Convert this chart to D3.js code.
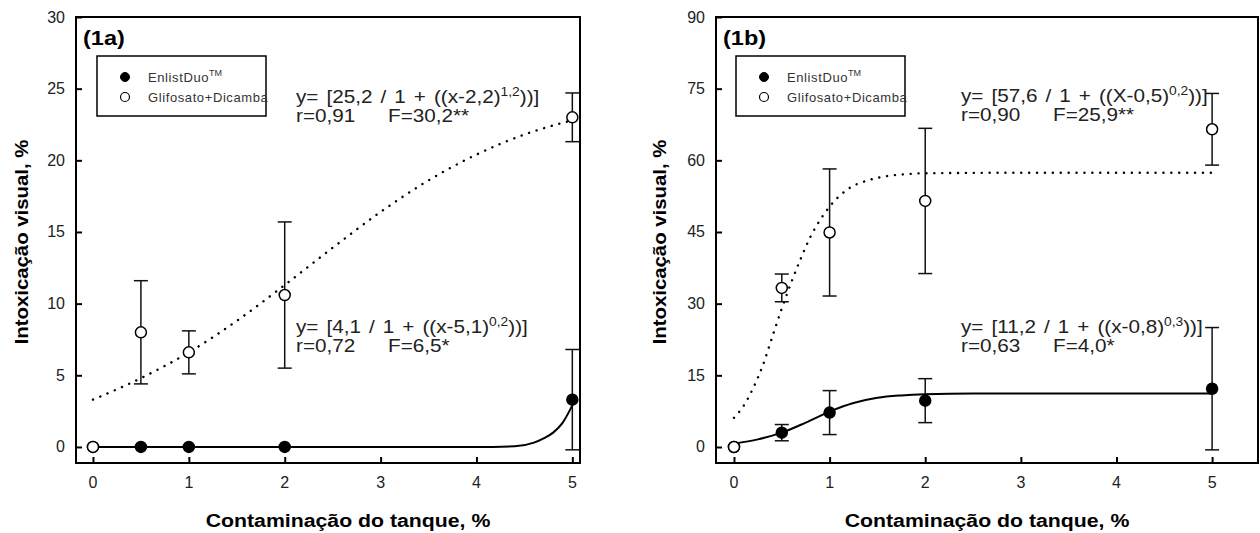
<!DOCTYPE html>
<html>
<head>
<meta charset="utf-8">
<script src="https://cdn.jsdelivr.net/npm/d3@7"></script>
<style>
  body { margin: 0; background: #fff; }
  svg { font-family: "Liberation Sans", Arial, sans-serif; }
</style>
</head>
<body>
<svg id="chart" width="1260" height="533"></svg>
<script>
// Tank contamination doses (%)
const doses = [0, 0.5, 1, 2, 5];
const xTicks = [0, 1, 2, 3, 4, 5];

// Panel 1a
const yTicksA = [0, 5, 10, 15, 20, 25, 30];
const enlistA = [0, 0, 0, 0, 3.3];
const enlistAErr = [0, 0, 0, 0, 3.5];
const glifA = [0, 8.0, 6.6, 10.6, 23.0];
const glifAErr = [0, 3.6, 1.5, 5.1, 1.7];
const fitEnlistAx = [0, 1, 2, 3, 4, 4.4, 4.6, 4.7, 4.8, 4.9, 5];
const fitEnlistAy = [0, 0, 0, 0, 0, 0.05, 0.3, 0.6, 1.0, 1.7, 2.9];
const fitGlifAx = [0, 0.5, 1, 1.5, 2, 2.5, 3, 3.5, 4, 4.5, 5];
const fitGlifAy = [3.3, 4.8, 6.6, 8.8, 11.3, 13.9, 16.4, 18.6, 20.4, 21.8, 22.8];

// Panel 1b
const yTicksB = [0, 15, 30, 45, 60, 75, 90];
const enlistB = [0, 3.0, 7.2, 9.7, 12.2];
const enlistBErr = [0, 1.7, 4.6, 4.6, 12.8];
const glifB = [0, 33.3, 44.9, 51.5, 66.5];
const glifBErr = [0, 2.9, 13.3, 15.2, 7.5];
const fitEnlistBx = [0, 0.25, 0.5, 0.75, 1, 1.25, 1.5, 1.75, 2, 2.5, 5];
const fitEnlistBy = [0.7, 1.6, 3.0, 5.1, 7.4, 9.2, 10.3, 10.8, 11.05, 11.2, 11.2];
const fitGlifBx = [0, 0.1, 0.2, 0.3, 0.4, 0.5, 0.6, 0.7, 0.8, 0.9, 1.0, 1.2, 1.4, 1.6, 1.8, 2.0, 3, 4, 5];
const fitGlifBy = [6.1, 8.6, 12.3, 17.0, 23.0, 29.0, 34.5, 39.5, 44.0, 47.5, 50.3, 54.1, 55.8, 56.7, 57.1, 57.3, 57.4, 57.4, 57.4];

const svg = d3.select('#chart');

// text that is a bit wider than the font draws it (the source image is stretched sideways)
function wideText(g, x, y, sx, size) {
    return g.append('text')
        .attr('transform', `translate(${x},${y}) scale(${sx},1)`)
        .attr('font-size', size);
}

function drawPanel(p) {
    const x = d3.scaleLinear().domain(p.xDomain).range([p.left, p.right]);
    const y = d3.scaleLinear().domain(p.yDomain).range([p.bottom, p.top]);
    const g = svg.append('g');

    // ticks (inside) and labels
    g.append('g')
        .attr('transform', `translate(${p.left},0)`)
        .call(d3.axisRight(y).tickValues(p.yTicks).tickSize(6).tickFormat(''))
        .call(a => a.select('.domain').remove())
        .call(a => a.selectAll('line').attr('stroke', '#000').attr('stroke-width', 2));
    g.append('g')
        .attr('transform', `translate(0,${p.bottom})`)
        .call(d3.axisTop(x).tickValues(xTicks).tickSize(6).tickFormat(''))
        .call(a => a.select('.domain').remove())
        .call(a => a.selectAll('line').attr('stroke', '#000').attr('stroke-width', 2));

    g.selectAll('.ylab').data(p.yTicks).enter().append('text')
        .attr('x', p.left - 11).attr('y', d => y(d) + 5.5)
        .attr('text-anchor', 'end').attr('font-size', 16).attr('fill', '#222')
        .text(d => d);
    g.selectAll('.xlab').data(xTicks).enter().append('text')
        .attr('x', d => x(d)).attr('y', 488)
        .attr('text-anchor', 'middle').attr('font-size', 16).attr('fill', '#222')
        .text(d => d);

    // frame
    g.append('rect')
        .attr('x', p.left).attr('y', p.top)
        .attr('width', p.right - p.left).attr('height', p.bottom - p.top)
        .attr('fill', 'none').attr('stroke', '#000').attr('stroke-width', 2);

    // axis titles
    wideText(g, p.xTitleX, 527, 1.15, 18.5)
        .attr('text-anchor', 'middle').attr('font-weight', 'bold')
        .text('Contaminação do tanque, %');
    g.append('text')
        .attr('transform', `translate(${p.yTitleX},242) rotate(-90) scale(1.1,1)`)
        .attr('text-anchor', 'middle').attr('font-size', 18.5).attr('font-weight', 'bold')
        .text('Intoxicação visual, %');

    // panel label
    wideText(g, p.left + 7, 45, 1.12, 21)
        .attr('font-weight', 'bold')
        .text(p.label);

    // fitted curves
    const line = d3.line().x(d => x(d[0])).y(d => y(d[1])).curve(d3.curveMonotoneX);
    g.append('path')
        .datum(d3.zip(p.fitGlifX, p.fitGlifY))
        .attr('d', line).attr('fill', 'none').attr('stroke', '#000')
        .attr('stroke-width', 2.4).attr('stroke-linecap', 'round')
        .attr('stroke-dasharray', '0.1 7.8');
    g.append('path')
        .datum(d3.zip(p.fitEnlistX, p.fitEnlistY))
        .attr('d', line).attr('fill', 'none').attr('stroke', '#000')
        .attr('stroke-width', 2);

    // error bars + points
    function series(vals, errs, fill) {
        const data = d3.zip(doses, vals, errs);
        const eb = g.append('g');
        data.filter(d => d[2] > 0).forEach(d => {
            const top = y(d[1] + d[2]), bot = y(d[1] - d[2]), cx = x(d[0]);
            eb.append('line').attr('x1', cx).attr('x2', cx).attr('y1', top).attr('y2', bot);
            eb.append('line').attr('x1', cx - 7).attr('x2', cx + 7).attr('y1', top).attr('y2', top);
            eb.append('line').attr('x1', cx - 7).attr('x2', cx + 7).attr('y1', bot).attr('y2', bot);
        });
        eb.selectAll('line').attr('stroke', '#111').attr('stroke-width', 1.5);
        g.append('g').selectAll('circle').data(data).enter().append('circle')
            .attr('cx', d => x(d[0])).attr('cy', d => y(d[1])).attr('r', 5.5)
            .attr('fill', fill).attr('stroke', '#000').attr('stroke-width', 1.5);
    }
    series(p.enlist, p.enlistErr, '#000');
    series(p.glif, p.glifErr, '#fff');

    // legend
    const lg = g.append('g');
    lg.append('rect')
        .attr('x', p.legX).attr('y', 56).attr('width', 169).attr('height', 60)
        .attr('fill', '#fff').attr('stroke', '#000').attr('stroke-width', 1.5);
    lg.append('circle').attr('cx', p.legX + 28).attr('cy', 77).attr('r', 4.5)
        .attr('fill', '#000').attr('stroke', '#000');
    lg.append('circle').attr('cx', p.legX + 28).attr('cy', 97).attr('r', 4.5)
        .attr('fill', '#fff').attr('stroke', '#000').attr('stroke-width', 1.2);
    const t1 = lg.append('text').attr('x', p.legX + 51).attr('y', 82)
        .attr('font-size', 13).attr('fill', '#333').attr('letter-spacing', 0.6);
    t1.append('tspan').text('EnlistDuo');
    t1.append('tspan').attr('font-size', 9).attr('dy', -6).attr('letter-spacing', 0).text('TM');
    lg.append('text').attr('x', p.legX + 51).attr('y', 102)
        .attr('font-size', 13).attr('fill', '#333').attr('letter-spacing', 0.6)
        .text('Glifosato+Dicamba');

    // equations
    p.equations.forEach(e => {
        const t = wideText(g, e.x, e.y, 1.15, 18).attr('fill', '#222').attr('word-spacing', 2);
        t.append('tspan').text(e.pre);
        t.append('tspan').attr('font-size', 12).attr('dy', -7).text(e.sup);
        t.append('tspan').attr('dy', 7).text('))]');
        wideText(g, e.x, e.y + 19, 1.15, 18).attr('fill', '#222').text(e.r);
        wideText(g, e.x + 92, e.y + 19, 1.15, 18).attr('fill', '#222').text(e.f);
    });
}

drawPanel({
    label: '(1a)', left: 76, right: 580, top: 17, bottom: 463,
    xDomain: [-0.177, 5.08], yDomain: [-1.12, 30], yTicks: yTicksA,
    xTitleX: 348, yTitleX: 28, legX: 97,
    enlist: enlistA, enlistErr: enlistAErr, glif: glifA, glifErr: glifAErr,
    fitEnlistX: fitEnlistAx, fitEnlistY: fitEnlistAy, fitGlifX: fitGlifAx, fitGlifY: fitGlifAy,
    equations: [
        {x: 296, y: 103, pre: 'y= [25,2 / 1 + ((x-2,2)', sup: '1,2', r: 'r=0,91', f: 'F=30,2**'},
        {x: 296, y: 333, pre: 'y= [4,1 / 1 + ((x-5,1)', sup: '0,2', r: 'r=0,72', f: 'F=6,5*'}
    ]
});

drawPanel({
    label: '(1b)', left: 716, right: 1258, top: 17, bottom: 463,
    xDomain: [-0.188, 5.48], yDomain: [-3.35, 90], yTicks: yTicksB,
    xTitleX: 987, yTitleX: 666, legX: 736,
    enlist: enlistB, enlistErr: enlistBErr, glif: glifB, glifErr: glifBErr,
    fitEnlistX: fitEnlistBx, fitEnlistY: fitEnlistBy, fitGlifX: fitGlifBx, fitGlifY: fitGlifBy,
    equations: [
        {x: 961, y: 102, pre: 'y= [57,6 / 1 + ((X-0,5)', sup: '0,2', r: 'r=0,90', f: 'F=25,9**'},
        {x: 961, y: 333, pre: 'y= [11,2 / 1 + ((x-0,8)', sup: '0,3', r: 'r=0,63', f: 'F=4,0*'}
    ]
});
</script>
</body>
</html>
